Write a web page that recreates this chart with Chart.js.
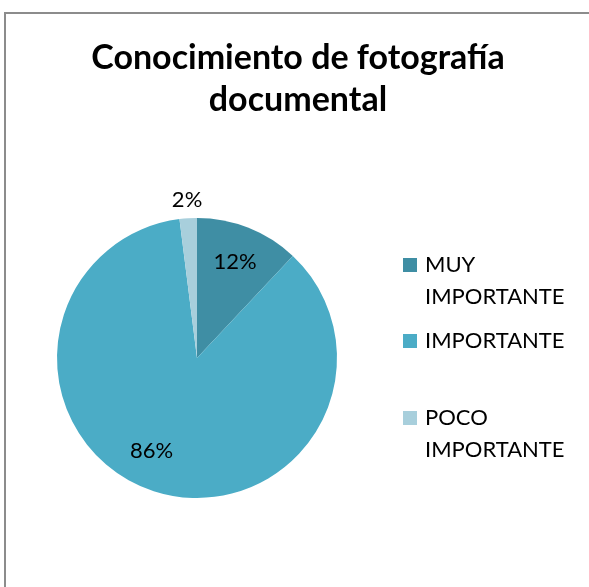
<!DOCTYPE html>
<html>
<head>
<meta charset="utf-8">
<script src="https://cdn.jsdelivr.net/npm/chart.js@4/dist/chart.umd.min.js"></script>
<style>
  html, body { margin: 0; padding: 0; background: #fff; }
  #wrap { position: relative; width: 589px; height: 587px; overflow: hidden; font-family: Lato, "Open Sans", sans-serif; }
  #frame { position: absolute; left: 4px; top: 12px; width: 600px; height: 600px;
           border-left: 2px solid #8c8c8c; border-top: 2px solid #8c8c8c; }
  #title { position: absolute; left: 0; top: 35px; width: 596px; text-align: center;
           font-weight: bold; font-size: 34px; line-height: 42px; color: #000; }
  #legend { position: absolute; left: 403px; top: 248px; font-size: 22px; color: #000; }
  .item { position: absolute; left: 0; white-space: nowrap; line-height: 32px; }
  .box { position: absolute; left: 0; top: 10px; width: 14px; height: 14px; }
  .txt { position: absolute; left: 22px; top: 0; }
  canvas { position: absolute; left: 0; top: 0; }
</style>
</head>
<body>
<div id="wrap">
  <div id="frame"></div>
  <canvas id="pie" width="589" height="587"></canvas>
  <div id="title">Conocimiento de fotografía<br>documental</div>
  <div id="legend"></div>
</div>
<script>
const categories = ["MUY IMPORTANTE", "IMPORTANTE", "POCO IMPORTANTE"];
const legendLines = [["MUY", "IMPORTANTE"], ["IMPORTANTE"], ["POCO", "IMPORTANTE"]];
const values = [12, 86, 2];
const colors = ["#3f8ea4", "#4bacc6", "#a8cfdc"];
const legendTops = [0, 76, 153];

// legend as html, built from the arrays above
const legend = document.getElementById("legend");
categories.forEach((c, i) => {
  const item = document.createElement("div");
  item.className = "item";
  item.style.top = legendTops[i] + "px";
  item.innerHTML = '<div class="box" style="background:' + colors[i] + '"></div>' +
    '<div class="txt">' + legendLines[i].join("<br>") + "</div>";
  legend.appendChild(item);
});

const pctLabels = {
  id: "pctLabels",
  afterDatasetsDraw(chart) {
    const ctx = chart.ctx;
    const meta = chart.getDatasetMeta(0);
    const total = values.reduce((a, b) => a + b, 0);
    ctx.save();
    ctx.font = "22px Lato, 'Open Sans', sans-serif";
    ctx.fillStyle = "#000";
    ctx.textAlign = "center";
    ctx.textBaseline = "middle";
    meta.data.forEach((arc, i) => {
      const mid = (arc.startAngle + arc.endAngle) / 2;
      const small = values[i] / total < 0.05;
      const r = arc.outerRadius * (small ? 1.13 : 0.74);
      // the big slice's label sits a bit further round, like the original
      const shift = values[i] / total > 0.5 ? 0.14 : 0;
      const x = arc.x + Math.cos(mid + shift) * r;
      const y = arc.y + Math.sin(mid + shift) * r;
      ctx.fillText(Math.round(values[i] / total * 100) + "%", x, y);
    });
    ctx.restore();
  }
};

new Chart(document.getElementById("pie").getContext("2d"), {
  type: "pie",
  data: {
    labels: categories,
    datasets: [{
      data: values,
      backgroundColor: colors,
      borderWidth: 0
    }]
  },
  options: {
    responsive: false,
    animation: false,
    layout: { padding: { left: 57, right: 252, top: 218, bottom: 89 } },
    plugins: {
      legend: { display: false },
      tooltip: { enabled: false },
      title: { display: false }
    }
  },
  plugins: [pctLabels]
});
</script>
</body>
</html>
